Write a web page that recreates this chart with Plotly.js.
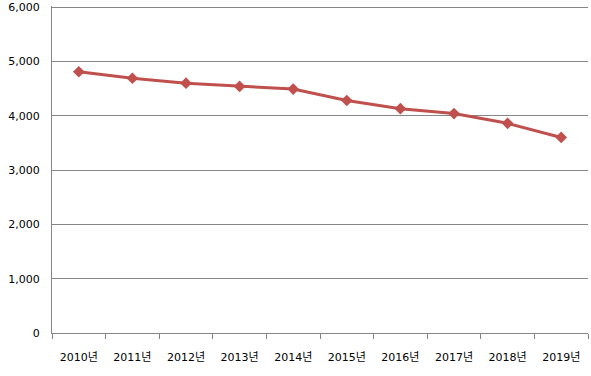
<!DOCTYPE html>
<html><head><meta charset="utf-8">
<script src="https://cdn.plot.ly/plotly-3.0.1.min.js"></script>
<style>body{margin:0;padding:0;background:#fff}#c{width:591px;height:376px}</style>
</head><body><div id="c"></div>
<script>
const categories = ["2010년","2011년","2012년","2013년","2014년","2015년","2016년","2017년","2018년","2019년"];
const values = [4810, 4690, 4600, 4540, 4490, 4280, 4130, 4040, 3860, 3600];
const yTickVals = [0,1000,2000,3000,4000,5000,6000];
const yTickText = ["0","1,000","2,000","3,000","4,000","5,000","6,000"];

Plotly.newPlot('c', [{
  type: 'scatter', mode: 'lines+markers',
  x: categories, y: values,
  line: {color: '#C0504D', width: 3},
  marker: {symbol: 'diamond', size: 9, color: '#C0504D'},
  hoverinfo: 'skip'
}], {
  width: 591, height: 376,
  margin: {l: 52, r: 3, t: 6, b: 43},
  paper_bgcolor: '#fff', plot_bgcolor: '#fff',
  showlegend: false,
  font: {family: '"DejaVu Sans", "Noto Sans CJK KR", sans-serif', size: 11, color: '#000'},
  xaxis: {
    type: 'category', range: [-0.5, 9.5],
    showline: true, linecolor: '#868686', linewidth: 1,
    showgrid: false, zeroline: false,
    ticks: 'outside', tickson: 'boundaries', ticklen: 5, tickcolor: '#868686',
    ticklabelstandoff: 14,
    tickfont: {size: 11, color: '#000'}
  },
  yaxis: {
    range: [0, 6020], tickvals: yTickVals, ticktext: yTickText,
    showline: true, linecolor: '#868686', linewidth: 1,
    showgrid: true, gridcolor: '#868686', gridwidth: 1,
    zeroline: false, ticks: '', ticklabelstandoff: 9,
    ticklabeloverflow: 'allow',
    tickfont: {size: 11, color: '#000'}
  }
}, {staticPlot: true});
</script></body></html>
